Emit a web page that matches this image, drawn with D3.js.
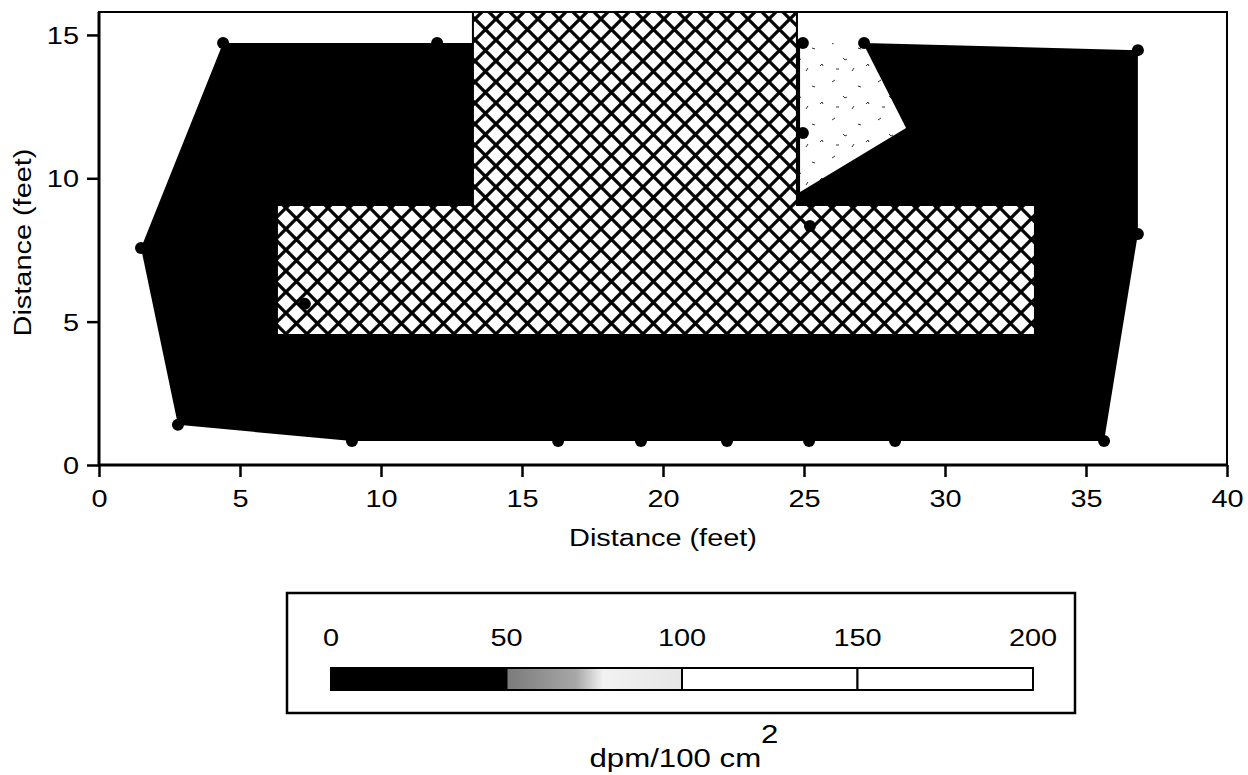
<!DOCTYPE html>
<html><head><meta charset="utf-8">
<script src="https://cdn.jsdelivr.net/npm/d3@7"></script>
<style>
body{margin:0;background:#fff}
text{font-family:"Liberation Sans",Arial,Helvetica,sans-serif;fill:#000}
</style>
</head><body>
<svg id="chart" width="1248" height="775"></svg>
<script>
// ---- data ----
const xTicks = [0, 5, 10, 15, 20, 25, 30, 35, 40];
const yTicks = [0, 5, 10, 15];
// sample locations (feet)
const samplePoints = [
  [1.49, 7.57], [4.40, 14.72], [11.99, 14.72], [24.96, 14.72], [27.13, 14.72],
  [36.84, 14.47], [36.84, 8.06], [35.64, 0.84], [28.23, 0.84], [25.18, 0.84],
  [22.27, 0.84], [19.22, 0.84], [16.28, 0.84], [8.97, 0.84], [2.80, 1.40],
  [7.30, 5.62], [25.21, 8.34], [24.96, 11.58]
];
// contour region 0-50 dpm (outer boundary of survey)
const regionLow = [
  [1.49, 7.57], [4.40, 14.72], [11.99, 14.72], [24.96, 14.72], [27.13, 14.72],
  [36.84, 14.47], [36.84, 8.06], [35.64, 0.84], [28.23, 0.84], [8.97, 0.84],
  [2.80, 1.40]
];
// region of higher activity (light)
const regionMid = [[24.86, 14.72], [27.09, 14.72], [28.62, 11.75], [24.86, 9.52]];
// not surveyed (cross-hatched)
const regionHatch = [
  [6.31, 4.53], [33.19, 4.53], [33.19, 9.07], [24.75, 9.07], [24.75, 16.5],
  [13.26, 16.5], [13.26, 9.07], [6.31, 9.07]
];
const legendBreaks = [0, 50, 100, 150, 200];
const legendFills = ["#000", "url(#midGrad)", "#fff", "#fff"];
const legendTitle = "dpm/100 cm";

// ---- layout ----
const svg = d3.select("#chart");
const X0 = 99, X1 = 1227, Y0 = 465, Y1 = 12;
const x = d3.scaleLinear().domain([0, 40]).range([X0, X1]);
const y = d3.scaleLinear().domain([0, 15.8]).range([Y0, Y1]);
const FS = 24.5, SX = 1.18;

const defs = svg.append("defs");
const P = 21;
const pat = defs.append("pattern").attr("id", "hatch").attr("patternUnits", "userSpaceOnUse")
  .attr("width", P).attr("height", P).attr("x", x(13.26) + 2).attr("y", y(9.07) + 3);
pat.append("rect").attr("width", P).attr("height", P).attr("fill", "#fff");
pat.append("path").attr("d", `M0,0L${P},${P}M${P},0L0,${P}`)
  .attr("stroke", "#000").attr("stroke-width", 3.3).attr("stroke-linecap", "square");

const sp = defs.append("pattern").attr("id", "speck").attr("patternUnits", "userSpaceOnUse")
  .attr("width", 46).attr("height", 38);
sp.append("rect").attr("width", 46).attr("height", 38).attr("fill", "#fff");
sp.append("path").attr("d", "M4,6l3,-2M15,20l2,2l2,-1M30,10l3,1M38,28l2,-2l1,2M8,31l3,0M24,33l2,-3")
  .attr("stroke", "#333").attr("stroke-width", 1).attr("fill", "none");

const grad = defs.append("linearGradient").attr("id", "midGrad");
grad.append("stop").attr("offset", "0").attr("stop-color", "#7a7a7a");
grad.append("stop").attr("offset", "0.4").attr("stop-color", "#a8a8a8");
grad.append("stop").attr("offset", "0.55").attr("stop-color", "#f2f2f2");
grad.append("stop").attr("offset", "1").attr("stop-color", "#e6e6e6");

defs.append("clipPath").attr("id", "plotClip").append("rect")
  .attr("x", X0).attr("y", Y1).attr("width", X1 - X0).attr("height", Y0 - Y1);

const line = d3.line().x(d => x(d[0])).y(d => y(d[1])).curve(d3.curveLinearClosed);
const g = svg.append("g").attr("clip-path", "url(#plotClip)");
g.append("path").attr("d", line(regionLow)).attr("fill", "#000");
g.append("path").attr("d", line(regionMid)).attr("fill", "url(#speck)");
g.append("path").attr("d", line(regionHatch)).attr("fill", "url(#hatch)")
  .attr("stroke", "#000").attr("stroke-width", 2);
g.selectAll("circle").data(samplePoints).join("circle")
  .attr("cx", d => x(d[0])).attr("cy", d => y(d[1])).attr("r", 6).attr("fill", "#000");

// frame
svg.append("rect").attr("x", X0).attr("y", Y1).attr("width", X1 - X0).attr("height", Y0 - Y1)
  .attr("fill", "none").attr("stroke", "#000").attr("stroke-width", 2);
svg.append("line").attr("x1", X0).attr("x2", X0).attr("y1", Y1).attr("y2", Y0)
  .attr("stroke", "#000").attr("stroke-width", 3);
svg.append("line").attr("x1", X0).attr("x2", X1).attr("y1", Y0).attr("y2", Y0)
  .attr("stroke", "#000").attr("stroke-width", 3);

// axes
const xAx = svg.append("g").attr("transform", `translate(0,${Y0})`)
  .call(d3.axisBottom(x).tickValues(xTicks).tickSize(12).tickPadding(6).tickFormat(d3.format("d")));
const yAx = svg.append("g").attr("transform", `translate(${X0},0)`)
  .call(d3.axisLeft(y).tickValues(yTicks).tickSize(12).tickPadding(6).tickFormat(d3.format("d")));
[xAx, yAx].forEach(a => {
  a.select(".domain").remove();
  a.selectAll(".tick line").attr("stroke", "#000").attr("stroke-width", 2.5);
  a.selectAll(".tick text").attr("font-size", FS).attr("fill", "#000")
    .attr("font-family", "'Liberation Sans',Arial,sans-serif");
});
xAx.selectAll(".tick text").attr("dy", null).attr("y", 0)
  .attr("transform", `translate(0,42) scale(${SX},1)`);
yAx.selectAll(".tick text").attr("dy", null).attr("x", 0)
  .attr("transform", `translate(-20,8.5) scale(${SX},1)`);

svg.append("text").attr("transform", `translate(${(X0 + X1) / 2},546) scale(${SX},1)`)
  .attr("text-anchor", "middle").attr("font-size", FS).text("Distance (feet)");
svg.append("text").attr("transform", `translate(31,${(Y0 + Y1) / 2 + 4}) rotate(-90) scale(${SX},1)`)
  .attr("text-anchor", "middle").attr("font-size", FS).text("Distance (feet)");

// legend
const lx = d3.scaleLinear().domain([0, 200]).range([331, 1033]);
svg.append("rect").attr("x", 287).attr("y", 593).attr("width", 788).attr("height", 120)
  .attr("fill", "#fff").attr("stroke", "#000").attr("stroke-width", 2.5);
const segs = d3.range(legendBreaks.length - 1).map(i => ({a: legendBreaks[i], b: legendBreaks[i + 1], f: legendFills[i]}));
svg.selectAll(".seg").data(segs).join("rect").attr("class", "seg")
  .attr("x", d => lx(d.a)).attr("width", d => lx(d.b) - lx(d.a))
  .attr("y", 668).attr("height", 22).attr("fill", d => d.f)
  .attr("stroke", "#000").attr("stroke-width", 2);
svg.selectAll(".lt").data(legendBreaks).join("text").attr("class", "lt")
  .attr("transform", d => `translate(${lx(d)},646) scale(${SX},1)`)
  .attr("text-anchor", "middle").attr("font-size", FS).text(d => d);
const tt = svg.append("text").attr("transform", `translate(684,767) scale(1.2,1)`)
  .attr("text-anchor", "middle").attr("font-size", 26);
tt.append("tspan").text(legendTitle);
tt.append("tspan").attr("dy", -24).text("2");
</script>
</body></html>
